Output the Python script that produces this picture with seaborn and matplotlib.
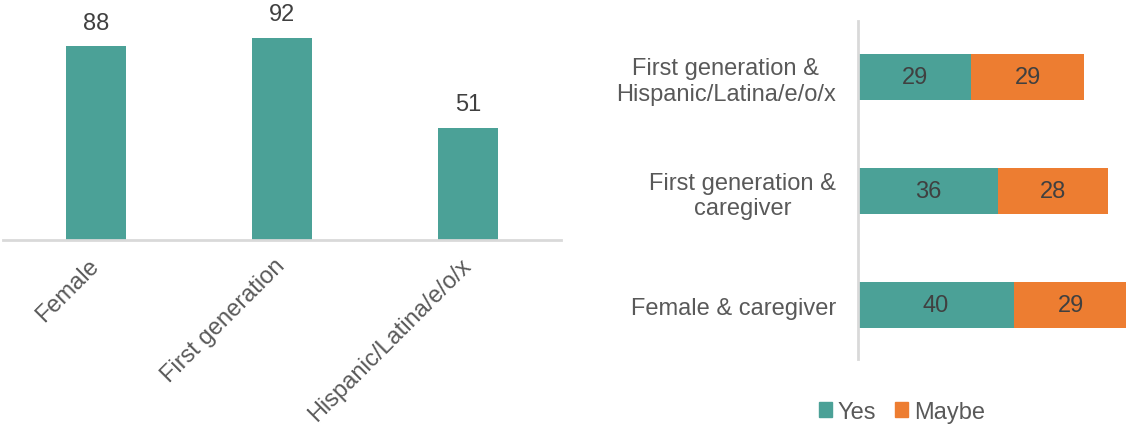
import matplotlib
matplotlib.use("Agg")
import matplotlib.pyplot as plt
from matplotlib.patches import Patch
import seaborn as sns
import pandas as pd

# ---- data ----
left_categories = ["Female", "First generation", "Hispanic/Latina/e/o/x"]
left_values = [88, 92, 51]

right_categories = ["First generation &\nHispanic/Latina/e/o/x",
                    "First generation &\ncaregiver",
                    "Female & caregiver"]
yes_values = [29, 36, 40]
maybe_values = [29, 28, 29]
legend_labels = ["Yes", "Maybe"]

TEAL = "#4BA197"
ORANGE = "#ED7D31"
LABEL_C = "#595959"
VALUE_C = "#404040"
AXIS_C = "#D9D9D9"
FS = 17

sns.set_theme(style="white")
plt.rcParams["font.family"] = ["Liberation Sans", "DejaVu Sans"]

fig = plt.figure(figsize=(11.26, 4.31), dpi=100)

# ---- left chart ----
ax1 = fig.add_axes([3 / 1126, 1 - 241 / 431, 558 / 1126, 241 / 431])
df_left = pd.DataFrame({"cat": left_categories, "val": left_values})
sns.barplot(data=df_left, x="cat", y="val", color=TEAL, width=0.32,
            saturation=1, linewidth=0, ax=ax1)
ax1.bar_label(ax1.containers[0], labels=[str(v) for v in left_values],
              padding=9, fontsize=FS, color=VALUE_C)
ax1.set_ylim(0, 109.5)
ax1.set_xlim(-0.5, 2.5)
ax1.set_xlabel("")
ax1.set_ylabel("")
ax1.set_yticks([])
for s in ["top", "right", "left"]:
    ax1.spines[s].set_visible(False)
ax1.spines["bottom"].set_color(AXIS_C)
ax1.spines["bottom"].set_linewidth(2)
ax1.tick_params(axis="x", length=0, pad=16, labelsize=FS, labelcolor=LABEL_C)
for lbl in ax1.get_xticklabels():
    lbl.set_rotation(45)
    lbl.set_ha("right")
    lbl.set_va("center")
    lbl.set_rotation_mode("anchor")

# ---- right chart ----
ax2 = fig.add_axes([858 / 1126, 1 - 360 / 431, 268 / 1126, 338 / 431])
totals = [y + m for y, m in zip(yes_values, maybe_values)]
df_right = pd.DataFrame({"cat": right_categories, "yes": yes_values,
                         "maybe": maybe_values, "total": totals})
sns.barplot(data=df_right, y="cat", x="total", color=ORANGE, width=0.4,
            saturation=1, linewidth=0, orient="h", ax=ax2)
sns.barplot(data=df_right, y="cat", x="yes", color=TEAL, width=0.4,
            saturation=1, linewidth=0, orient="h", ax=ax2)
ax2.bar_label(ax2.containers[1], labels=[str(v) for v in yes_values],
              label_type="center", fontsize=FS, color=VALUE_C)
for i, (y, m) in enumerate(zip(yes_values, maybe_values)):
    ax2.text(y + m / 2, i, str(m), ha="center", va="center",
             fontsize=FS, color=VALUE_C)
ax2.set_xlim(0, 68.7)
ax2.set_ylim(2.47, -0.49)
ax2.set_xlabel("")
ax2.set_ylabel("")
ax2.set_xticks([])
for s in ["top", "right", "bottom"]:
    ax2.spines[s].set_visible(False)
ax2.spines["left"].set_color(AXIS_C)
ax2.spines["left"].set_linewidth(2)
ax2.tick_params(axis="y", length=0, pad=16, labelsize=FS, labelcolor=LABEL_C)
for lbl in ax2.get_yticklabels():
    lbl.set_ha("right")
    lbl.set_multialignment("center")
    lbl.set_linespacing(1.2)

handles = [Patch(color=TEAL), Patch(color=ORANGE)]
fig.legend(handles, legend_labels, loc="center", bbox_to_anchor=(0.801, 0.042),
           ncol=2, frameon=False, fontsize=FS, labelcolor=LABEL_C,
           handlelength=0.55, handleheight=0.55, handletextpad=0.25,
           columnspacing=0.8)

fig.savefig("out.png", dpi=100)
